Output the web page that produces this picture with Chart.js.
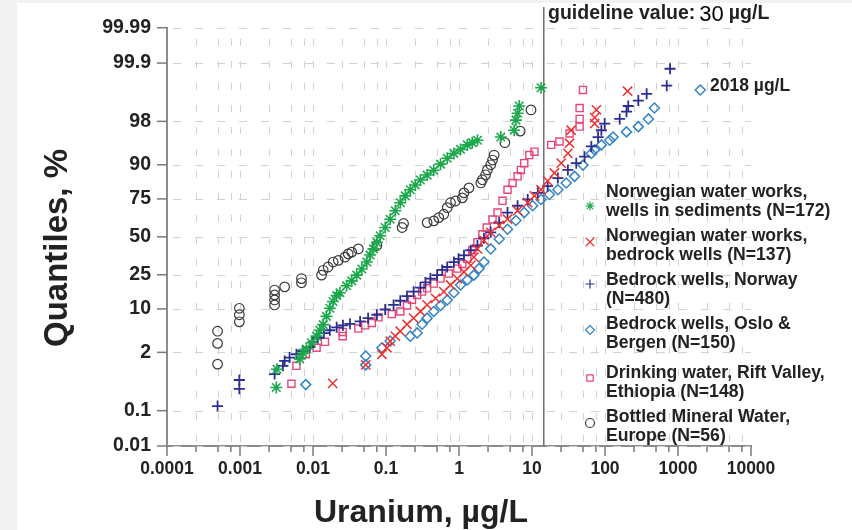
<!DOCTYPE html>
<html>
<head>
<meta charset="utf-8">
<script src="https://cdn.jsdelivr.net/npm/chart.js@4.4.0/dist/chart.umd.min.js"></script>
<style>
  html, body { margin: 0; padding: 0; background: #f2f2f2; }
  #wrap { width: 852px; height: 530px; }
</style>
</head>
<body>
<div id="wrap"><canvas id="uraniumChart" width="852" height="530"></canvas></div>
<script>
// axis ticks
const quantileTicks = [0.01, 0.1, 2, 10, 25, 50, 75, 90, 98, 99.9, 99.99];
const quantileLabels = ['0.01', '0.1', '2', '10', '25', '50', '75', '90', '98', '99.9', '99.99'];
const uraniumTicks = [0.0001, 0.001, 0.01, 0.1, 1, 10, 100, 1000, 10000];
const uraniumTickLabels = ['0.0001', '0.001', '0.01', '0.1', '1', '10', '100', '1000', '10000'];
const minorSteps = [2.5, 5, 7.5];
const guidelineAt = 14.5; // where the line sits in the figure

// Norwegian water works, wells in sediments (N=172)
const sedU = [0.00314, 0.00321, 0.00658, 0.00724, 0.00812, 0.00953, 0.0112, 0.0124, 0.0138, 0.0153, 0.0170, 0.0188, 0.0211, 0.0234, 0.0289, 0.0339, 0.0397, 0.0466, 0.0546, 0.0605, 0.0673, 0.0750, 0.0832, 0.0975, 0.114, 0.134, 0.157, 0.184, 0.215, 0.252, 0.296, 0.366, 0.451, 0.558, 0.690, 0.851, 1.05, 1.30, 1.52, 1.79, 3.74, 5.70, 6.02, 6.35, 6.68, 13.3];
const sedQ = [0.37, 0.93, 1.50, 1.95, 2.30, 2.98, 3.87, 4.84, 5.93, 7.86, 10.2, 12.5, 14.8, 16.0, 19.2, 21.7, 24.8, 28.4, 32.7, 37.3, 41.5, 46.1, 50.8, 56.6, 62.3, 67.9, 72.8, 76.7, 79.9, 82.2, 84.4, 86.4, 88.2, 90.2, 91.9, 93.1, 94.0, 94.9, 95.3, 95.7, 96.2, 97.1, 98.1, 98.6, 99.0, 99.6];

// Norwegian water works, bedrock wells (N=137)
const wwRockU = [0.0186, 0.0528, 0.0879, 0.103, 0.114, 0.134, 0.157, 0.194, 0.239, 0.296, 0.366, 0.477, 0.619, 0.765, 0.948, 1.17, 1.45, 1.60, 1.79, 2.20, 2.72, 3.55, 4.62, 6.35, 8.73, 10.8, 13.3, 16.4, 20.3, 25.1, 31.0, 32.7, 34.4, 72.1, 72.1, 76.2, 204];
const wwRockQ = [0.46, 1.14, 1.84, 2.43, 3.19, 3.87, 4.67, 6.0, 7.42, 9.23, 11.3, 13.7, 16.5, 19.6, 22.9, 26.6, 30.6, 35.9, 41.5, 47.5, 53.2, 58.0, 62.3, 67.9, 72.8, 76.7, 79.9, 84.0, 87.2, 90.5, 93.1, 95.2, 97.1, 97.8, 98.3, 98.8, 99.52];

// Bedrock wells, Norway (N=480)
const norwayU = [0.000493, 0.00098, 0.00098, 0.00298, 0.00387, 0.00409, 0.00478, 0.00593, 0.00724, 0.00903, 0.0100, 0.0116, 0.0141, 0.0170, 0.0211, 0.0257, 0.0321, 0.0442, 0.0569, 0.0750, 0.0975, 0.127, 0.157, 0.194, 0.239, 0.296, 0.347, 0.406, 0.502, 0.589, 0.690, 0.851, 0.986, 1.17, 1.45, 1.79, 2.20, 2.72, 3.55, 4.62, 6.35, 8.73, 12.0, 16.4, 22.6, 31.0, 40.4, 52.5, 65.0, 80.4, 89.2, 99.0, 159, 197, 208, 286, 372, 701, 778];
const norwayQ = [0.131, 0.344, 0.546, 0.736, 1.09, 1.37, 1.59, 1.84, 2.12, 2.50, 3.06, 3.62, 4.33, 4.84, 5.39, 5.79, 6.10, 6.64, 7.42, 8.30, 9.82, 11.3, 12.8, 14.6, 16.5, 18.3, 20.9, 22.9, 24.8, 27.8, 29.6, 32.7, 34.8, 37.1, 40.6, 43.9, 49.0, 53.2, 60.0, 66.7, 71.0, 74.7, 78.3, 81.6, 85.2, 88.3, 90.5, 92.3, 94.6, 96.2, 97.1, 97.8, 98.2, 98.7, 99.0, 99.23, 99.45, 99.64, 99.86];

// Bedrock wells, Oslo & Bergen (N=150)
const osloU = [0.00796, 0.0528, 0.0528, 0.0879, 0.114, 0.215, 0.267, 0.312, 0.366, 0.451, 0.558, 0.690, 0.851, 1.05, 1.30, 1.60, 1.88, 2.20, 2.72, 3.55, 4.62, 6.02, 7.83, 10.2, 13.3, 17.3, 22.6, 29.4, 38.3, 49.9, 65.0, 72.1, 89.2, 116, 129, 197, 286, 393, 475, 2018];
const osloQ = [0.43, 1.14, 1.71, 2.43, 3.19, 3.87, 4.38, 6.0, 7.42, 9.23, 11.1, 13.1, 16.0, 19.6, 22.2, 24.8, 28.6, 32.7, 41.5, 48.5, 55.4, 61.4, 66.7, 71.0, 74.7, 77.4, 79.9, 83.1, 85.9, 89.9, 93.1, 93.9, 94.9, 95.7, 96.2, 96.9, 97.5, 98.2, 98.9, 99.55];

// Drinking water, Rift Valley, Ethiopia (N=148)
const riftU = [0.00506, 0.00593, 0.00796, 0.0112, 0.0146, 0.0255, 0.0255, 0.0418, 0.0516, 0.0640, 0.0789, 0.120, 0.157, 0.194, 0.227, 0.267, 0.312, 0.366, 0.451, 0.558, 0.726, 0.948, 1.11, 1.30, 1.52, 1.79, 2.09, 2.40, 2.88, 3.37, 3.95, 4.62, 5.42, 6.35, 7.05, 7.83, 9.18, 10.8, 18.3, 23.8, 32.7, 44.9, 44.9, 44.9, 49.9];
const riftQ = [0.45, 1.09, 1.84, 2.43, 3.10, 3.87, 4.54, 5.14, 5.79, 6.27, 7.61, 8.47, 9.23, 11.1, 13.2, 15.1, 16.5, 18.0, 20.3, 22.9, 25.7, 28.6, 31.5, 34.8, 40.6, 46.1, 51.8, 56.6, 62.1, 66.7, 73.9, 79.9, 83.1, 85.9, 88.3, 90.5, 92.7, 93.5, 94.9, 95.5, 96.7, 97.5, 98.2, 98.9, 99.55];

// Bottled Mineral Water, Europe (N=56)
const bottledU = [0.000493, 0.000493, 0.000493, 0.00098, 0.00098, 0.00098, 0.00298, 0.00298, 0.00298, 0.00298, 0.00409, 0.00695, 0.00695, 0.0131, 0.0138, 0.0161, 0.0189, 0.0222, 0.0274, 0.0304, 0.0339, 0.0418, 0.0750, 0.166, 0.174, 0.366, 0.451, 0.528, 0.619, 0.690, 0.765, 0.897, 1.11, 1.17, 1.37, 1.99, 2.09, 2.32, 2.45, 2.72, 2.88, 3.03, 4.25, 6.90, 9.69];
const bottledQ = [1.18, 2.91, 4.67, 6.54, 8.30, 10.2, 11.3, 13.1, 15.1, 17.2, 18.7, 20.7, 22.9, 24.8, 27.6, 29.6, 32.7, 33.8, 35.9, 38.1, 39.3, 41.5, 43.9, 56.6, 59.4, 60.0, 61.2, 63.4, 65.6, 69.8, 72.8, 73.8, 75.6, 78.3, 80.8, 83.1, 84.5, 86.5, 88.3, 90.0, 91.4, 92.7, 95.3, 97.0, 98.8];

// inverse normal CDF (Acklam) – the quantile axis is linear in z
function probit(p) {
  const a = [-39.69683028665376, 220.9460984245205, -275.9285104469687, 138.3577518672690, -30.66479806614716, 2.506628277459239];
  const b = [-54.47609879822406, 161.5858368580409, -155.6989798598866, 66.80131188771972, -13.28068155288572];
  const c = [-0.007784894002430293, -0.3223964580411365, -2.400758277161838, -2.549732539343734, 4.374664141464968, 2.938163982698783];
  const d = [0.007784695709041462, 0.3224671290700398, 2.445134137142996, 3.754408661907416];
  const lo = 0.02425;
  if (p < lo) {
    const q = Math.sqrt(-2 * Math.log(p));
    return (((((c[0]*q + c[1])*q + c[2])*q + c[3])*q + c[4])*q + c[5]) / ((((d[0]*q + d[1])*q + d[2])*q + d[3])*q + 1);
  }
  if (p > 1 - lo) {
    const q = Math.sqrt(-2 * Math.log(1 - p));
    return -(((((c[0]*q + c[1])*q + c[2])*q + c[3])*q + c[4])*q + c[5]) / ((((d[0]*q + d[1])*q + d[2])*q + d[3])*q + 1);
  }
  const q = p - 0.5, r = q * q;
  return (((((a[0]*r + a[1])*r + a[2])*r + a[3])*r + a[4])*r + a[5])*q / (((((b[0]*r + b[1])*r + b[2])*r + b[3])*r + b[4])*r + 1);
}

const toPoints = (us, qs) => us.map((u, i) => ({ x: u, y: probit(qs[i] / 100) }));

const FONT = '"Liberation Sans", Arial, Helvetica, sans-serif';

const datasets = [
  { label: 'Norwegian water works,|wells in sediments (N=172)', data: toPoints(sedU, sedQ),
    pointStyle: 'star', pointRadius: 6, borderColor: '#1aa84b', borderWidth: 1.6, backgroundColor: 'transparent' },
  { label: 'Norwegian water works,|bedrock wells (N=137)', data: toPoints(wwRockU, wwRockQ),
    pointStyle: 'crossRot', pointRadius: 6.5, borderColor: '#ee2f2f', borderWidth: 1.5, backgroundColor: 'transparent' },
  { label: 'Bedrock wells, Norway|(N=480)', data: toPoints(norwayU, norwayQ),
    pointStyle: 'cross', pointRadius: 5.5, borderColor: '#2b2e90', borderWidth: 1.8, backgroundColor: 'transparent' },
  { label: 'Bedrock wells, Oslo &|Bergen (N=150)', data: toPoints(osloU, osloQ),
    pointStyle: 'rectRot', pointRadius: 5, borderColor: '#3484c5', borderWidth: 1.5, backgroundColor: 'transparent' },
  { label: 'Drinking water, Rift Valley,|Ethiopia (N=148)', data: toPoints(riftU, riftQ),
    pointStyle: 'rect', pointRadius: 5, borderColor: '#e8457a', borderWidth: 1.4, backgroundColor: 'transparent' },
  { label: 'Bottled Mineral Water,|Europe (N=56)', data: toPoints(bottledU, bottledQ),
    pointStyle: 'circle', pointRadius: 4.8, borderColor: '#3a3a3a', borderWidth: 1.2, backgroundColor: 'transparent' }
];

// legend rows: first text line centre and marker centre
const legendRows = [[192, 206], [236, 242], [280, 284], [324, 330], [373, 378], [417, 423]];

function marker(ctx, style, x, y, r) {
  ctx.beginPath();
  if (style === 'circle') {
    ctx.arc(x, y, r, 0, Math.PI * 2);
  } else if (style === 'rect') {
    const s = r / Math.SQRT2;
    ctx.rect(x - s, y - s, 2 * s, 2 * s);
  } else if (style === 'rectRot') {
    ctx.moveTo(x, y - r); ctx.lineTo(x + r, y); ctx.lineTo(x, y + r); ctx.lineTo(x - r, y); ctx.closePath();
  } else {
    const o = r * Math.SQRT1_2;
    if (style === 'cross' || style === 'star') {
      ctx.moveTo(x, y - r); ctx.lineTo(x, y + r); ctx.moveTo(x - r, y); ctx.lineTo(x + r, y);
    }
    if (style === 'crossRot' || style === 'star') {
      ctx.moveTo(x - o, y - o); ctx.lineTo(x + o, y + o); ctx.moveTo(x + o, y - o); ctx.lineTo(x - o, y + o);
    }
  }
  ctx.stroke();
}

const extras = {
  id: 'extras',
  beforeDraw(chart) {
    const ctx = chart.ctx;
    ctx.save();
    ctx.fillStyle = '#f2f2f2';
    ctx.fillRect(0, 0, chart.width, chart.height);
    ctx.fillStyle = '#ffffff';
    ctx.fillRect(17, 3, chart.width - 17, chart.height - 3);
    ctx.restore();
  },
  beforeDatasetsDraw(chart) {
    const { ctx, chartArea: a, scales: { x, y } } = chart;
    ctx.save();
    ctx.strokeStyle = '#d2d2d2';
    ctx.lineWidth = 1;
    ctx.setLineDash([7, 15]);
    uraniumTicks.forEach((t, i) => {
      const vals = i === 0 ? [] : [t];
      if (i < uraniumTicks.length - 1) minorSteps.forEach(m => vals.push(t * m));
      vals.forEach(v => {
        if (v >= 10000) return;
        const px = Math.round(x.getPixelForValue(v)) + 0.5;
        ctx.beginPath(); ctx.moveTo(px, a.bottom - 4); ctx.lineTo(px, a.top); ctx.stroke();
      });
    });
    ctx.setLineDash([8, 14]);
    quantileTicks.forEach(q => {
      const py = Math.round(y.getPixelForValue(probit(q / 100))) + 0.5;
      ctx.beginPath(); ctx.moveTo(a.left + 6, py); ctx.lineTo(a.right, py); ctx.stroke();
    });
    ctx.setLineDash([]);
    ctx.strokeStyle = '#707070';
    ctx.lineWidth = 1.5;
    const gx = x.getPixelForValue(guidelineAt);
    ctx.beginPath(); ctx.moveTo(gx, 7); ctx.lineTo(gx, a.bottom); ctx.stroke();
    ctx.restore();
  },
  afterDraw(chart) {
    const { ctx, chartArea: a, scales: { x, y } } = chart;
    ctx.save();
    // tick marks
    ctx.strokeStyle = '#7a7a7a';
    ctx.lineWidth = 1.5;
    uraniumTicks.forEach((t, i) => {
      const px = x.getPixelForValue(t);
      ctx.beginPath(); ctx.moveTo(px, a.bottom); ctx.lineTo(px, a.bottom + 10); ctx.stroke();
      if (i < uraniumTicks.length - 1) {
        minorSteps.forEach(m => {
          const mx = x.getPixelForValue(t * m);
          ctx.beginPath(); ctx.moveTo(mx, a.bottom); ctx.lineTo(mx, a.bottom + 6); ctx.stroke();
        });
      }
    });
    quantileTicks.forEach(q => {
      const py = y.getPixelForValue(probit(q / 100));
      ctx.beginPath(); ctx.moveTo(a.left - 10, py); ctx.lineTo(a.left, py); ctx.stroke();
    });

    ctx.fillStyle = '#222';
    ctx.textBaseline = 'middle';
    // axis titles
    ctx.font = 'bold 32px ' + FONT;
    ctx.textAlign = 'center';
    ctx.fillText('Uranium, \u00b5g/L', 421, 513);
    ctx.font = 'bold 33px ' + FONT;
    ctx.save();
    ctx.translate(58, 248);
    ctx.rotate(-Math.PI / 2);
    ctx.fillText('Quantiles, %', 0, 0);
    ctx.restore();

    // guideline label
    ctx.textAlign = 'left';
    let tx = 548;
    ctx.font = 'bold 19.5px ' + FONT;
    ctx.fillText('guideline value:', tx, 14);
    tx += ctx.measureText('guideline value:').width + 4;
    ctx.font = '22px ' + FONT;
    ctx.fillStyle = '#000';
    ctx.fillText('30', tx, 15);
    tx += ctx.measureText('30').width + 5;
    ctx.font = 'bold 19.5px ' + FONT;
    ctx.fillStyle = '#222';
    ctx.fillText('\u00b5g/L', tx, 14);

    // max value note
    ctx.font = 'bold 17.5px ' + FONT;
    ctx.fillText('2018 \u00b5g/L', 710, 86);

    // legend
    ctx.font = 'bold 17.6px ' + FONT;
    datasets.forEach((ds, i) => {
      const [ty, my] = legendRows[i];
      const lines = ds.label.split('|');
      ctx.fillStyle = '#222';
      lines.forEach((ln, k) => ctx.fillText(ln, 606, ty + k * 19.5));
      ctx.strokeStyle = ds.borderColor;
      ctx.lineWidth = 1.2;
      marker(ctx, ds.pointStyle, 590, my, ds.pointStyle === 'crossRot' ? 6 : 4.5);
    });
    ctx.restore();
  }
};

const ctx = document.getElementById('uraniumChart').getContext('2d');

new Chart(ctx, {
  type: 'scatter',
  data: { datasets: datasets.map(ds => ({ ...ds, showLine: false, pointHoverRadius: ds.pointRadius })) },
  options: {
    responsive: false,
    animation: false,
    layout: { padding: { left: 0, right: 101, top: 23, bottom: 0 } },
    plugins: { legend: { display: false }, tooltip: { enabled: false } },
    scales: {
      x: {
        type: 'logarithmic',
        min: 0.0001,
        max: 10000,
        afterBuildTicks: s => { s.ticks = uraniumTicks.map(v => ({ value: v })); },
        afterFit: s => { s.height = 84; },
        grid: { display: false, drawTicks: false },
        border: { display: true, color: '#8c8c8c', width: 2 },
        ticks: {
          autoSkip: false, maxRotation: 0, padding: 13, color: '#222',
          font: { family: FONT, size: 17.5, weight: 'bold' },
          callback: (v, i) => uraniumTickLabels[i]
        }
      },
      y: {
        type: 'linear',
        min: probit(0.0001),
        max: probit(0.9999),
        afterBuildTicks: s => { s.ticks = quantileTicks.map(q => ({ value: probit(q / 100) })); },
        afterFit: s => { s.width = 167; },
        grid: { display: false, drawTicks: false },
        border: { display: true, color: '#8c8c8c', width: 2 },
        ticks: {
          autoSkip: false, padding: 16, color: '#222',
          font: { family: FONT, size: 19.5, weight: 'bold' },
          callback: (v, i) => quantileLabels[i]
        }
      }
    }
  },
  plugins: [extras]
});
</script>
</body>
</html>
